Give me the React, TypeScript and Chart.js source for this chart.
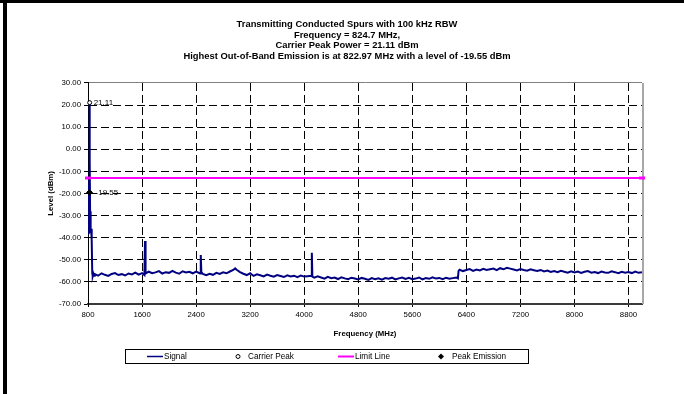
import React, { useEffect, useRef } from "react";
import { Chart, registerables } from "chart.js";

Chart.register(...registerables);

const FONT = "'Liberation Sans', Arial, Helvetica, sans-serif";

const titleLines = [
  "Transmitting Conducted Spurs with 100 kHz RBW",
  "Frequency = 824.7 MHz,",
  "Carrier Peak Power = 21.11 dBm",
  "Highest Out-of-Band Emission is at 822.97 MHz with a level of -19.55 dBm",
];

const xAxisTitle = "Frequency (MHz)";
const yAxisTitle = "Level (dBm)";

// Tick values
const xTickValues = [800, 1600, 2400, 3200, 4000, 4800, 5600, 6400, 7200, 8000, 8800];
const yTickValues = [-70, -60, -50, -40, -30, -20, -10, 0, 10, 20, 30];

// Signal trace: frequency (MHz) and level (dBm)
const signalFreq = [
  800, 806, 812, 818, 822.97, 824.7, 827, 831, 836, 842, 846, 850, 855, 859, 863, 870, 880, 890,
  900, 950, 1000, 1050, 1100, 1150, 1200, 1250, 1300, 1350, 1400, 1450, 1500, 1550, 1600,
  1635, 1644, 1652, 1700, 1750, 1800, 1850, 1900, 1950, 2000, 2050, 2100, 2150, 2200, 2250, 2300, 2350, 2400,
  2460, 2469, 2478, 2500, 2550, 2600, 2650, 2700, 2750, 2800, 2850, 2900, 2950, 2978, 3000, 3050,
  3100, 3150, 3200, 3250, 3300, 3350, 3400, 3450, 3500, 3550, 3600, 3650, 3700, 3750, 3800, 3850, 3900, 3950, 4000, 4050,
  4105, 4113, 4121, 4150, 4200, 4250, 4300, 4350, 4400, 4450, 4500, 4550, 4600, 4650, 4700, 4750, 4800, 4850, 4900, 4950, 5000, 5050, 5100,
  5150, 5200, 5250, 5300, 5350, 5400, 5450, 5500, 5550, 5600, 5650, 5700, 5750, 5800, 5850, 5900, 5950, 6000, 6050, 6100, 6150, 6200, 6250, 6275, 6285,
  6300, 6350, 6400, 6450, 6500, 6550, 6600, 6650, 6700, 6750, 6800, 6850, 6900, 6950, 7000, 7050, 7100, 7150, 7200, 7250, 7300, 7350, 7400, 7450,
  7500, 7550, 7600, 7650, 7700, 7750, 7800, 7850, 7900, 7950, 8000, 8050, 8100, 8150, 8200, 8250, 8300, 8350, 8400, 8450, 8500, 8550, 8600, 8650, 8700, 8750, 8800, 8850, 8900, 8950, 9000,
];

const signalLevel = [
  -38, -28, -22, -14, -19.55, 21.11, -5, -28, -33, -38, -36, -40, -37, -41, -56, -57.4, -56.3, -57.2,
  -56.5, -57.2, -56.1, -56.8, -57.3, -56.4, -56.0, -56.9, -56.5, -57.1, -56.2, -56.6, -55.8, -56.7, -56.0,
  -56.9, -41.5, -56.2, -55.4, -56.1, -55.7, -55.1, -56.2, -55.6, -55.9, -55.0, -55.8, -56.3, -55.2, -55.7, -55.4, -56.1, -55.3,
  -56.2, -47.8, -55.6, -56.4, -57.0, -56.3, -56.8, -55.9, -56.4, -55.7, -56.1, -55.3, -54.6, -53.9, -54.5, -55.6,
  -56.3, -56.9, -56.1, -57.3, -56.6, -57.0, -57.5, -56.7, -57.2, -57.6, -56.9, -57.3, -57.8, -57.0, -57.5, -57.2, -57.9, -57.1, -57.6, -57.4,
  -57.2, -46.8, -57.6, -58.1, -57.5, -58.0, -58.5, -57.7, -58.3, -58.0, -58.7, -57.9, -58.4, -58.8, -58.1, -58.5, -58.9, -58.2, -58.6, -59.1, -58.3, -58.8, -58.4,
  -59.0, -58.3, -58.6, -58.1, -58.9, -58.4, -58.0, -58.7, -58.2, -58.8, -58.5, -58.0, -58.9, -58.3, -58.6, -57.9, -58.5, -58.2, -58.8, -58.1, -58.6, -58.3, -58.0, -58.4, -55.0,
  -54.5, -55.1, -54.6, -54.2, -55.0, -54.4, -54.8, -54.1, -54.6, -54.3, -54.0, -54.7, -53.8, -54.3, -53.6, -54.0, -54.4, -54.8, -54.2, -54.6, -54.9, -54.3, -54.7, -55.1,
  -54.6, -55.3, -54.9, -55.5, -55.1, -55.6, -55.0, -55.4, -55.8, -55.2, -55.7, -55.3, -55.9, -55.4, -55.1, -55.8, -55.5, -56.0, -55.3, -55.7, -55.9, -55.2, -55.6, -56.1, -55.4, -55.8, -55.5, -56.0, -55.3, -55.9, -55.6,
];

const carrierPeakFreq = [824.7];
const carrierPeakLevel = [21.11];

const peakEmissionFreq = [822.97];
const peakEmissionLevel = [-19.55];

const limitFreq = [800, 9000];
const limitLevel = [-13, -13];

const seriesNames = ["Signal", "Carrier Peak", "Limit Line", "Peak Emission"];

const xMin = 800;
const xMax = 9000;
const yMin = -70;
const yMax = 30;

const NAVY = "#000080";
const MAGENTA = "#ff00ff";

const pointLabelPlugin = {
  id: "pointLabels",
  afterDatasetsDraw(chart: any) {
    const ctx = chart.ctx;
    ctx.save();
    ctx.font = `8px ${FONT}`;
    ctx.fillStyle = "#000";
    ctx.textBaseline = "middle";
    ctx.textAlign = "left";
    const items = [
      { idx: 1, text: carrierPeakLevel[0].toFixed(2), dx: 4 },
      { idx: 3, text: peakEmissionLevel[0].toFixed(2), dx: 6 },
    ];
    for (const it of items) {
      const meta = chart.getDatasetMeta(it.idx);
      const el = meta.data[0];
      if (el) ctx.fillText(it.text, el.x + it.dx, el.y);
    }
    ctx.restore();
  },
};

const frameAndLegendPlugin = {
  id: "frameAndLegend",
  beforeDatasetsDraw(chart: any) {
    const { ctx, chartArea: a } = chart;
    ctx.save();
    ctx.strokeStyle = "#a8a8a8";
    ctx.lineWidth = 2;
    ctx.beginPath();
    ctx.moveTo(a.right + 1, a.top);
    ctx.lineTo(a.right + 1, a.bottom);
    ctx.stroke();
    ctx.restore();
  },
  afterDraw(chart: any) {
    const ctx = chart.ctx;
    const ds = chart.data.datasets;
    ctx.save();
    ctx.strokeStyle = "#000";
    ctx.lineWidth = 1;
    ctx.strokeRect(125.5, 349.5, 403, 14);
    const cy = 356.5;
    ctx.font = `8.2px ${FONT}`;
    ctx.fillStyle = "#000";
    ctx.textBaseline = "middle";
    ctx.textAlign = "left";

    // Signal
    ctx.strokeStyle = NAVY;
    ctx.lineWidth = 1.5;
    ctx.beginPath();
    ctx.moveTo(147, cy);
    ctx.lineTo(163, cy);
    ctx.stroke();
    ctx.fillText(ds[0].label, 164, cy);

    // Carrier Peak
    ctx.strokeStyle = "#000";
    ctx.lineWidth = 1;
    ctx.fillStyle = "#fff";
    ctx.beginPath();
    ctx.arc(238, cy, 2, 0, Math.PI * 2);
    ctx.fill();
    ctx.stroke();
    ctx.fillStyle = "#000";
    ctx.fillText(ds[1].label, 248, cy);

    // Limit Line
    ctx.strokeStyle = MAGENTA;
    ctx.lineWidth = 2;
    ctx.beginPath();
    ctx.moveTo(338, cy);
    ctx.lineTo(354, cy);
    ctx.stroke();
    ctx.fillText(ds[2].label, 355, cy);

    // Peak Emission
    ctx.fillStyle = "#000";
    ctx.beginPath();
    ctx.moveTo(441, cy - 3);
    ctx.lineTo(444, cy);
    ctx.lineTo(441, cy + 3);
    ctx.lineTo(438, cy);
    ctx.closePath();
    ctx.fill();
    ctx.fillText(ds[3].label, 452, cy);
    ctx.restore();
  },
};

export default function App() {
  const canvasRef = useRef<HTMLCanvasElement | null>(null);

  useEffect(() => {
    if (!canvasRef.current) return;
    Chart.defaults.font.family = FONT;
    Chart.defaults.color = "#000";

    const signalData = signalFreq.map((f, i) => ({ x: f, y: signalLevel[i] }));
    const carrierData = carrierPeakFreq.map((f, i) => ({ x: f, y: carrierPeakLevel[i] }));
    const peakData = peakEmissionFreq.map((f, i) => ({ x: f, y: peakEmissionLevel[i] }));
    const limitData = limitFreq.map((f, i) => ({ x: f, y: limitLevel[i] }));

    const chart = new Chart(canvasRef.current, {
      type: "line",
      data: {
        datasets: [
          {
            label: seriesNames[0],
            data: signalData,
            borderColor: NAVY,
            backgroundColor: NAVY,
            borderWidth: 2,
            pointRadius: 0,
            tension: 0,
            order: 4,
          },
          {
            label: seriesNames[1],
            data: carrierData,
            showLine: false,
            pointStyle: "circle",
            pointRadius: 2,
            pointBorderWidth: 1,
            pointBorderColor: "#000",
            pointBackgroundColor: "#fff",
            clip: false,
            order: 1,
          },
          {
            label: seriesNames[2],
            data: limitData,
            borderColor: MAGENTA,
            backgroundColor: MAGENTA,
            borderWidth: 2,
            pointStyle: "line",
            pointRadius: 3,
            pointBorderWidth: 3,
            pointBorderColor: MAGENTA,
            clip: false,
            order: 3,
          },
          {
            label: seriesNames[3],
            data: peakData,
            showLine: false,
            pointStyle: "rectRot",
            pointRadius: 3,
            pointBorderWidth: 1,
            pointBorderColor: "#000",
            pointBackgroundColor: "#000",
            clip: false,
            order: 2,
          },
        ],
      },
      options: {
        responsive: false,
        animation: false,
        events: [],
        layout: { padding: { left: 52, right: 42, top: 0, bottom: 50 } },
        plugins: {
          legend: { display: false },
          tooltip: { enabled: false },
          title: {
            display: true,
            text: titleLines,
            color: "#000",
            font: { family: FONT, size: 9.4, weight: "bold", lineHeight: 1.135 },
            padding: { top: 19, bottom: 21.3 },
          },
        },
        scales: {
          x: {
            type: "linear",
            min: xMin,
            max: xMax,
            afterBuildTicks: (s: any) => {
              s.ticks = xTickValues.map((v) => ({ value: v }));
            },
            ticks: {
              autoSkip: false,
              maxRotation: 0,
              padding: 3,
              color: "#000",
              font: { family: FONT, size: 7.8 },
              callback: (v: any) => String(v),
            },
            grid: {
              color: "#000",
              lineWidth: 1,
              tickColor: "#000",
              tickLength: 3,
              drawTicks: true,
            },
            border: { display: true, color: "#3a3a3a", width: 2, dash: [8, 4] },
            title: {
              display: true,
              text: xAxisTitle,
              color: "#000",
              font: { family: FONT, size: 7.8, weight: "bold" },
              padding: { top: 0, bottom: 5.8 },
            },
            afterFit: (s: any) => {
              s.height = 40;
            },
          },
          y: {
            type: "linear",
            min: yMin,
            max: yMax,
            afterBuildTicks: (s: any) => {
              s.ticks = yTickValues.map((v) => ({ value: v }));
            },
            ticks: {
              padding: 3,
              color: "#000",
              font: { family: FONT, size: 7.8 },
              callback: (v: any) => Number(v).toFixed(2),
            },
            grid: {
              color: (c: any) => (c.tick && c.tick.value === yMax ? "#808080" : "#000"),
              lineWidth: 1,
              tickColor: "#000",
              tickLength: 4,
              drawTicks: true,
            },
            border: {
              display: true,
              color: "#000",
              width: 1,
              dash: (c: any) =>
                c.tick && (c.tick.value === yMax || c.tick.value === yMin) ? [] : [8, 4],
            },
            title: {
              display: true,
              text: yAxisTitle,
              color: "#000",
              font: { family: FONT, size: 7.8, weight: "bold" },
              padding: { top: -6.2, bottom: 0 },
            },
            afterFit: (s: any) => {
              s.width = 36;
            },
          },
        },
      } as any,
      plugins: [frameAndLegendPlugin, pointLabelPlugin],
    });

    return () => chart.destroy();
  }, []);

  return (
    <div
      style={{
        position: "absolute",
        left: 0,
        top: 0,
        width: 684,
        height: 394,
        background: "#fff",
        overflow: "hidden",
      }}
    >
      <canvas ref={canvasRef} width={684} height={394} style={{ display: "block" }} />
      <div style={{ position: "absolute", left: 0, top: 0, width: 684, height: 3, background: "#000" }} />
      <div style={{ position: "absolute", left: 3, top: 0, width: 4, height: 394, background: "#000" }} />
    </div>
  );
}
